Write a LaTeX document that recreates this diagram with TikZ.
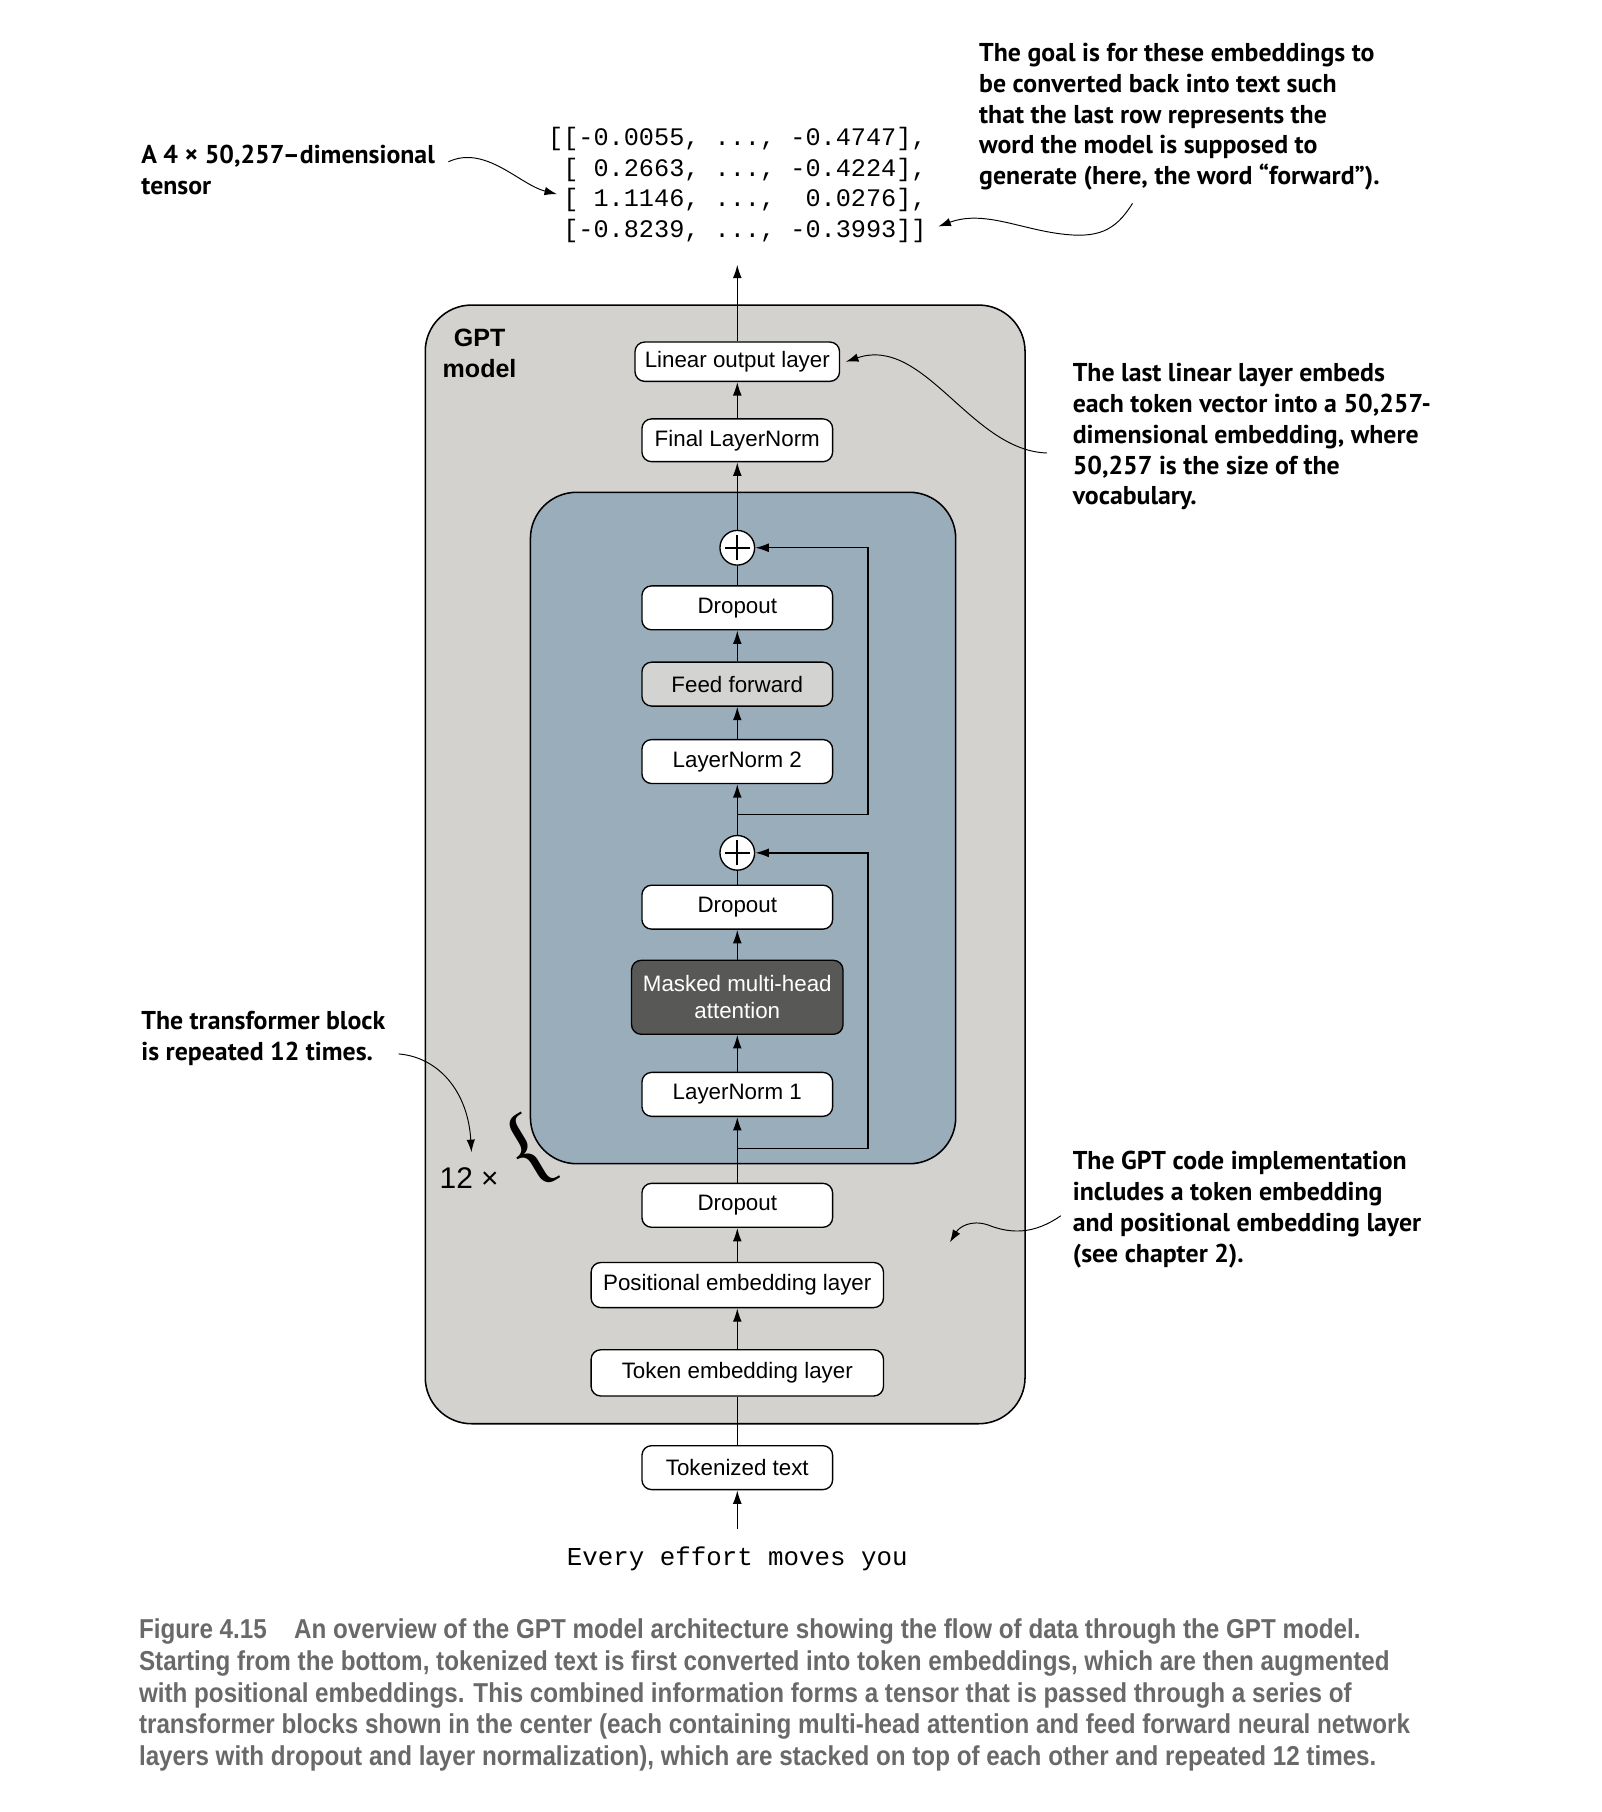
\documentclass[tikz,border=0pt]{standalone}
\usepackage{fontspec}
\setmainfont{Liberation Sans}
\newfontfamily\notefont{PT Sans}
\newfontfamily\codefont{Liberation Mono}
\newfontfamily\figcapfont{Liberation Sans}[FakeStretch=0.885]
\newfontfamily\bracefont{Liberation Serif}
\usetikzlibrary{arrows.meta}

\definecolor{gptgray}{RGB}{211,210,206}
\definecolor{blockblue}{RGB}{154,173,187}
\definecolor{ffgray}{RGB}{211,211,209}
\definecolor{attngray}{RGB}{88,88,86}
\definecolor{capgray}{RGB}{105,105,105}

\begin{document}
\begin{tikzpicture}[x=0.6pt,y=-0.6pt,
  layer/.style={draw, line width=0.7pt, rounded corners=5pt, fill=white,
    minimum width=99pt, minimum height=22.8pt, inner sep=0pt,
    font=\fontsize{11.6}{14}\selectfont},
  line/.style={line width=0.7pt},
  arr/.style={line width=0.7pt, -{Latex[length=7pt,width=4.6pt]}},
  thinarr/.style={line width=0.5pt, -{Latex[length=6.5pt,width=4.4pt]}},
  addnode/.style={circle, draw, line width=0.7pt, fill=white, minimum size=18pt, inner sep=0pt,
    path picture={
      \draw[line width=0.9pt] ([xshift=-6.5pt]path picture bounding box.center) -- ([xshift=6.5pt]path picture bounding box.center);
      \draw[line width=0.9pt] ([yshift=-6.5pt]path picture bounding box.center) -- ([yshift=6.5pt]path picture bounding box.center);}},
  note/.style={anchor=north west, align=left, inner sep=0pt,
    font=\notefont\bfseries\fontsize{13.4}{16}\selectfont},
]
\useasboundingbox (0,0) rectangle (1386,1568);

% GPT model container
\draw[fill=gptgray, line width=0.8pt, rounded corners=24pt] (368,264) rectangle (887,1232);
\node[font=\bfseries\fontsize{13}{16.2}\selectfont, align=center] (gptlabel) at (415,306) {GPT\\model};

% transformer block
\draw[fill=blockblue, line width=0.8pt, rounded corners=24pt] (459,426) rectangle (827,1007);

% layers
\node[layer, minimum width=106.2pt, minimum height=20.4pt] (linear) at (638,313) {Linear output layer};
\node[layer, minimum height=22.2pt] (finalnorm) at (638,381) {Final LayerNorm};
\node[addnode] (add2) at (638,474) {};
\node[layer] (drop2) at (638,526) {Dropout};
\node[layer, fill=ffgray] (ff) at (638,592) {Feed forward};
\node[layer] (norm2) at (638,659) {LayerNorm 2};
\node[addnode] (add1) at (638,738) {};
\node[layer] (drop1) at (638,785) {Dropout};
\node[layer, fill=attngray, text=white, minimum width=109.8pt, minimum height=38.4pt,
  align=center, font=\fontsize{11.6}{13.8}\selectfont] (attn) at (638,863) {Masked multi-head\\attention};
\node[layer] (norm1) at (638,947) {LayerNorm 1};
\node[layer] (drop0) at (638,1043) {Dropout};
\node[layer, minimum width=151.8pt, minimum height=23.4pt] (posemb) at (638,1112) {Positional embedding layer};
\node[layer, minimum width=151.8pt, minimum height=24pt] (tokemb) at (638,1188) {Token embedding layer};
\node[layer] (tokens) at (638,1270) {Tokenized text};
\node[font=\codefont\fontsize{13.4}{16}\selectfont] (words) at (638,1349) {Every effort moves you};

% output tensor
\node[anchor=west, align=left, inner sep=0pt, font=\codefont\fontsize{13.1}{16}\selectfont] (tensor) at (474,160)
  {[[-0.0055, ..., -0.4747],\\
   ~[ 0.2663, ..., -0.4224],\\
   ~[ 1.1146, ...,~ 0.0276],\\
   ~[-0.8239, ..., -0.3993]]};

% repetition mark
\node[font=\fontsize{15.5}{17}\selectfont, inner sep=1pt] (times) at (406,1019) {12 ×};
\node[font=\bracefont\fontsize{48}{48}\selectfont, rotate=31, inner sep=0pt] (brace) at (458,997) {\{};

% main data flow
\draw[arr, shorten <=6pt] (words) -- (tokens);
\draw[line] (tokens) -- (tokemb);
\draw[arr] (tokemb) -- (posemb);
\draw[arr] (posemb) -- (drop0);
\draw[arr] (drop0) -- (norm1);
\draw[arr] (norm1) -- (attn);
\draw[arr] (attn) -- (drop1);
\draw[line] (drop1) -- (add1);
\draw[arr] (add1) -- (norm2);
\draw[arr] (norm2) -- (ff);
\draw[arr] (ff) -- (drop2);
\draw[line] (drop2) -- (add2);
\draw[arr] (add2) -- (finalnorm);
\draw[arr] (finalnorm) -- (linear);
\coordinate (logits) at (638,229);
\draw[arr] (linear) -- (logits);

% residual shortcuts
\coordinate (skip1) at (638,994);
\coordinate (skip1r) at (751,994);
\draw[arr] (skip1) -- (skip1r) |- (add1);
\coordinate (skip2) at (638,705);
\coordinate (skip2r) at (751,705);
\draw[arr] (skip2) -- (skip2r) |- (add2);

% annotations
\node[note] (tensornote) at (122,125) {A 4 × 50,257–dimensional\\tensor};
\node[note] (goalnote) at (847,37) {The goal is for these embeddings to\\be converted back into text such\\that the last row represents the\\word the model is supposed to\\generate (here, the word “forward”).};
\node[note] (linearnote) at (928,314) {The last linear layer embeds\\each token vector into a 50,257-\\dimensional embedding, where\\50,257 is the size of the\\vocabulary.};
\node[note] (blocknote) at (122,875) {The transformer block\\is repeated 12 times.};
\node[note] (embnote) at (928,996) {The GPT code implementation\\includes a token embedding\\and positional embedding layer\\(see chapter 2).};

% annotation pointers
\coordinate (tn0) at (388,140);
\coordinate (tn1) at (482,168);
\draw[thinarr] (tn0) .. controls (420,125) and (450,160) .. (tn1);
\coordinate (gn0) at (980,176);
\coordinate (gn1) at (812,196);
\draw[thinarr] (gn0) .. controls (965,200) and (950,207) .. (915,202) .. controls (880,197) and (850,182) .. (gn1);
\coordinate (ln0) at (906,392);
\coordinate (ln1) at (732,313);
\draw[thinarr] (ln0) .. controls (840,390) and (800,290) .. (ln1);
\coordinate (bn0) at (345,912);
\coordinate (bn1) at (408,997);
\draw[thinarr] (bn0) .. controls (380,915) and (405,945) .. (bn1);
\coordinate (en0) at (918,1052);
\coordinate (en1) at (822,1075);
\draw[thinarr] (en0) .. controls (895,1068) and (875,1068) .. (855,1060) .. controls (840,1055) and (830,1062) .. (en1);

% caption
\node[anchor=north west, align=left, inner sep=0pt, text=capgray,
  font=\figcapfont\bfseries\fontsize{14.2}{16.6}\selectfont] (caption) at (120,1400)
  {Figure 4.15\hspace{1.0em}An overview of the GPT model architecture showing the flow of data through the GPT model.\\
   Starting from the bottom, tokenized text is first converted into token embeddings, which are then augmented\\
   with positional embeddings. This combined information forms a tensor that is passed through a series of\\
   transformer blocks shown in the center (each containing multi-head attention and feed forward neural network\\
   layers with dropout and layer normalization), which are stacked on top of each other and repeated 12 times.};
\end{tikzpicture}
\end{document}
